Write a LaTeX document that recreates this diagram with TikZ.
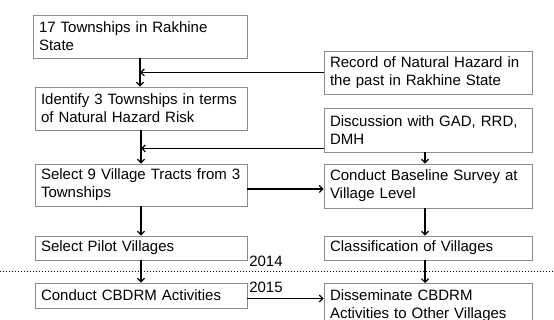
\documentclass[tikz,border=0pt]{standalone}
\usepackage{fontspec}
\setmainfont{Liberation Sans}
\usetikzlibrary{arrows.meta,calc}
\tikzset{
  box/.style={draw=black!45, line width=0.8pt, rectangle, inner xsep=6pt, inner ysep=0pt,
    align=left, font=\fontsize{15}{18}\selectfont},
  arr/.style={draw=black, line width=1.2pt, -{Straight Barb[length=3.5pt,width=7pt,line width=1.2pt]}},
  yearlbl/.style={font=\fontsize{15}{18}\selectfont, inner sep=0pt},
  sep/.style={draw=black, line width=1.3pt, dash pattern=on 1.4pt off 1.6pt}
}
\begin{document}
\begin{tikzpicture}[x=1pt,y=1pt]
\useasboundingbox (0,0) rectangle (554,320);
\clip (0,0) rectangle (554,320);
% left column
\node[box, text width=202pt, minimum height=43pt] (b1) at (140,283.5) {17 Townships in Rakhine\\State};
\node[box, text width=200pt, minimum height=43pt] (b2) at (141,211.5) {Identify 3 Townships in terms\\of Natural Hazard Risk};
\node[box, text width=200pt, minimum height=42pt] (b3) at (141,135) {Select 9 Village Tracts from 3\\Townships};
\node[box, text width=200pt, minimum height=24pt] (b4) at (141,72) {Select Pilot Villages};
\node[box, text width=200pt, minimum height=25pt] (b5) at (141,24.5) {Conduct CBDRM Activities};
% right column
\node[box, text width=196pt, minimum height=43pt] (r1) at (428,247.5) {Record of Natural Hazard in\\the past in Rakhine State};
\node[box, text width=196pt, minimum height=44pt] (r2) at (428,190) {Discussion with GAD, RRD,\\DMH};
\node[box, text width=196pt, minimum height=44pt] (r3) at (428,134) {Conduct Baseline Survey at\\Village Level};
\node[box, text width=196pt, minimum height=24pt] (r4) at (428,72) {Classification of Villages};
\node[box, text width=196pt, minimum height=44pt, anchor=north] (r5) at (428,37) {Disseminate CBDRM\\Activities to Other Villages};
% year separator
\coordinate (sl) at (0,48.5);
\coordinate (sr) at (554,48.5);
\draw[sep] (sl) -- (sr);
\node[yearlbl] (y14) at (266,59) {2014};
\node[yearlbl] (y15) at (266,33) {2015};
% left vertical arrows
\draw[arr] (b1.south) -- (b1.south |- b2.north);
\draw[arr] (b2.south) -- (b2.south |- b3.north);
\draw[arr] (b3.south) -- (b3.south |- b4.north);
\draw[arr] (b4.south) -- (b4.south |- b5.north);
% right vertical arrows
\coordinate (k2) at ($(r2.south)+(-3,0)$);
\draw[arr] (k2) -- (k2 |- r3.north);
\coordinate (k3) at ($(r3.south)+(-3,0)$);
\draw[arr] (k3) -- (k3 |- r4.north);
\coordinate (k4) at ($(r4.south)+(-3,0)$);
\draw[arr] (k4) -- (k4 |- r5.north);
% horizontal arrows
\draw[arr] (r1.west) -- (r1.west -| b1.south);
\coordinate (h2) at ($(r2.south west)+(0,4)$);
\draw[arr] (h2) -- (h2 -| b2.south);
\coordinate (h3) at ($(b3.east)+(0,-4)$);
\draw[arr] (h3) -- (h3 -| r3.west);
\coordinate (h5) at ($(b5.east)+(0,-3)$);
\draw[arr] (h5) -- (h5 -| r5.west);
\end{tikzpicture}
\end{document}
